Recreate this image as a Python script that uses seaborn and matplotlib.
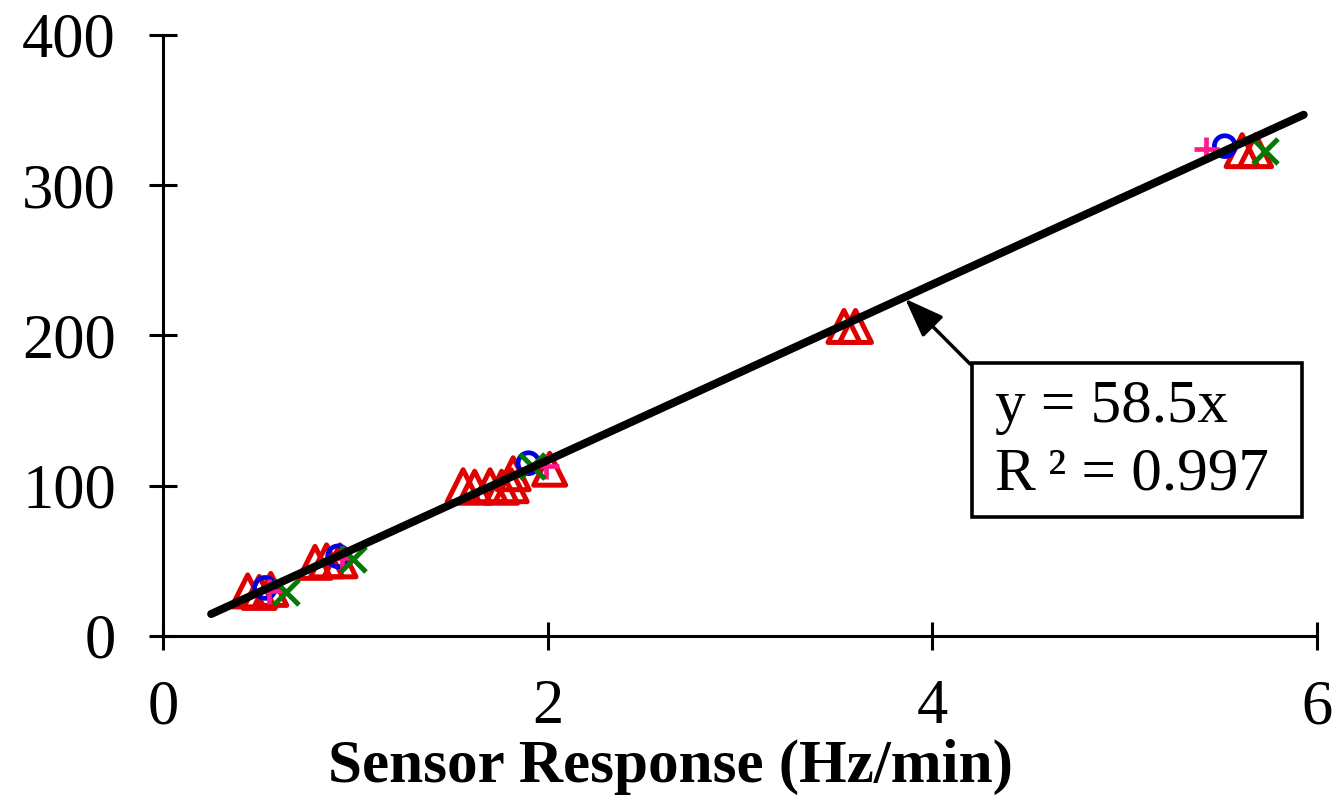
import matplotlib
matplotlib.use("Agg")
import matplotlib.pyplot as plt
from matplotlib.patches import Rectangle
import seaborn as sns
import pandas as pd

# ---- data ----
tri_x = [0.44, 0.50, 0.56, 0.79, 0.85, 0.92, 1.56, 1.62, 1.70, 1.76, 1.81, 1.82, 2.01, 3.54, 3.60, 5.61, 5.68]
tri_y = [30, 29, 31, 49, 50, 50, 100, 99, 100, 99, 100, 108, 111, 206, 206, 323, 323]
circ_x = [0.53, 0.91, 1.90, 5.52]
circ_y = [32, 53, 115, 326]
xm_x = [0.64, 0.99, 1.92, 5.73]
xm_y = [29, 51, 113, 323]
plus_x = [0.55, 0.93, 1.99, 5.42]
plus_y = [30, 52, 113, 324]
slope = 58.5
r2 = 0.997
fit_x = [0.25, 5.93]
x_ticks = [0, 2, 4, 6]
y_ticks = [0, 100, 200, 300, 400]
xlabel = "Sensor Response (Hz/min)"

sns.set_theme(style="white")
plt.rcParams["font.family"] = ["Liberation Serif", "DejaVu Serif"]
plt.rcParams["text.color"] = "black"
plt.rcParams["axes.labelcolor"] = "black"
plt.rcParams["xtick.color"] = "black"
plt.rcParams["ytick.color"] = "black"

fig = plt.figure(figsize=(13.41, 8.02), dpi=100)
ax = fig.add_axes([0.1216, 0.2070, 0.8606, 0.7494])

RED = "#e00000"
BLUE = "#0000e0"
GREEN = "#007a00"
PINK = "#ff1a8c"

sns.scatterplot(x=tri_x, y=tri_y, marker="^", s=23**2, facecolors="none",
                edgecolor=RED, linewidth=3.6, ax=ax, zorder=3)
sns.scatterplot(x=circ_x, y=circ_y, marker="o", s=15**2, facecolors="none",
                edgecolor=BLUE, linewidth=3.4, ax=ax, zorder=4)
sns.scatterplot(x=plus_x, y=plus_y, marker="+", s=18**2, color=PINK,
                linewidth=3.4, ax=ax, zorder=4)
sns.scatterplot(x=xm_x, y=xm_y, marker="x", s=18**2, color=GREEN,
                linewidth=3.6, ax=ax, zorder=4)

fit_df = pd.DataFrame({"x": fit_x, "y": [slope * v for v in fit_x]})
sns.lineplot(data=fit_df, x="x", y="y", color="black", linewidth=5.8, ax=ax, zorder=5)

ax.set_xlim(0, 6)
ax.set_ylim(0, 400)
ax.set_xticks(x_ticks)
ax.set_yticks(y_ticks)
ax.set_xticklabels([str(v) for v in x_ticks])
ax.set_yticklabels([str(v) for v in y_ticks])
ax.tick_params(axis="both", direction="inout", length=20, width=2.2,
               labelsize=45, pad=24, colors="black", bottom=True, left=True)
ax.tick_params(axis="x", pad=21)
for s in ["top", "right"]:
    ax.spines[s].set_visible(False)
for s in ["left", "bottom"]:
    ax.spines[s].set_linewidth(2.2)
    ax.spines[s].set_color("black")
ax.grid(False)
ax.set_ylabel("")
ax.set_xlabel(xlabel, fontsize=44, fontweight="bold", color="black")
ax.xaxis.set_label_coords(0.440, -0.172)

# annotation arrow
ax.annotate("", xy=(3.858, 224.4), xytext=(4.196, 181.0),
            arrowprops=dict(arrowstyle="-|>,head_length=1.2,head_width=0.45",
                            lw=2.5, color="black", mutation_scale=20,
                            shrinkA=0, shrinkB=0), zorder=6)
# equation box
box = Rectangle((972 / 1341, 1 - 517 / 802), (1302 - 972) / 1341, (517 - 363) / 802,
                transform=fig.transFigure, facecolor="white", edgecolor="black",
                linewidth=2.6, zorder=6)
ax.add_patch(box)
box.set_clip_on(False)
ax.text(995 / 1341, 1 - 422 / 802, f"y = {slope}x", fontsize=44, ha="left",
        va="baseline", transform=fig.transFigure, color="black", zorder=7)
ax.text(995 / 1341, 1 - 490 / 802, f"R\u2009² = {r2}", fontsize=44, ha="left",
        va="baseline", transform=fig.transFigure, color="black", zorder=7)

fig.savefig("out.png", dpi=100)
